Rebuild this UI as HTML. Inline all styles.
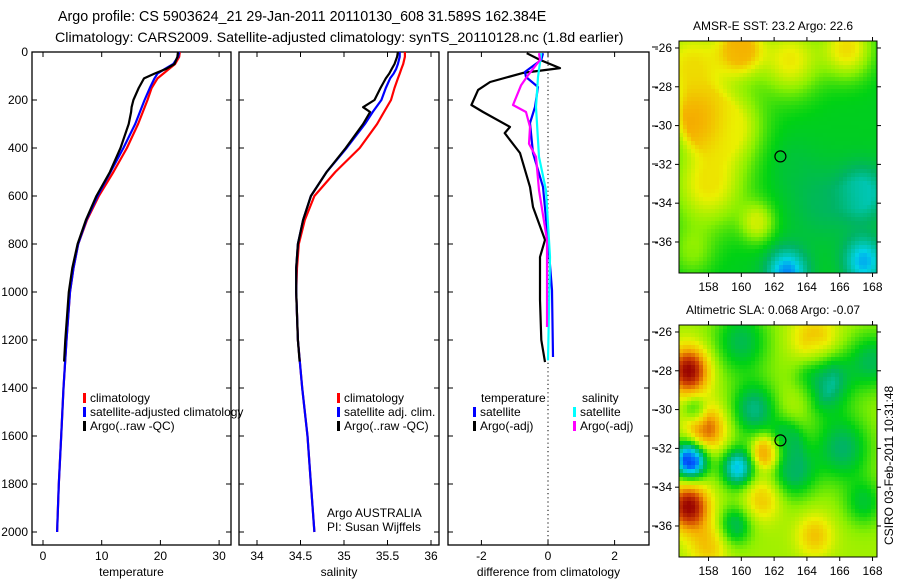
<!DOCTYPE html>
<html><head><meta charset="utf-8"><style>
html,body{margin:0;padding:0;background:#fff;width:900px;height:580px;overflow:hidden;position:relative;font-family:"Liberation Sans",sans-serif}
svg text{font-family:"Liberation Sans",sans-serif;fill:#000}
canvas{position:absolute;image-rendering:pixelated}
</style></head><body>
<svg id="plots" width="900" height="580" style="position:absolute;left:0;top:0">
<text x="58" y="21" font-size="14.3">Argo profile: CS 5903624_21 29-Jan-2011 20110130_608 31.589S 162.384E</text>
<text x="55" y="42" font-size="14.25">Climatology: CARS2009. Satellite-adjusted climatology: synTS_20110128.nc (1.8d earlier)</text>
<g id="p1"></g>
<g id="p2"></g>
<g id="p3"></g>
<text x="693" y="30" font-size="12">AMSR-E SST: 23.2 Argo: 22.6</text>
<text x="686" y="314" font-size="12">Altimetric SLA: 0.068 Argo: -0.07</text>
<text transform="translate(893,545) rotate(-90)" font-size="12">CSIRO 03-Feb-2011 10:31:48</text>
<g id="maps"></g>
</svg>
<canvas id="m1" width="198" height="232" style="left:679px;top:41px"></canvas>
<canvas id="m2" width="198" height="232" style="left:679px;top:325px"></canvas>
<svg id="ov" width="900" height="580" style="position:absolute;left:0;top:0"></svg>
<script>
// ---- profile data ----
const climDepth=[0,20,50,70,90,110,150,200,250,300,400,500,600,700,800,900,1000,1200,1400,1600,1800,2000];
const climT=[23.3,23.2,22.5,21.5,20.5,19.5,18.5,17.8,17.0,16.2,14.3,12.0,9.5,7.5,6.0,5.2,4.6,4.0,3.5,3.1,2.7,2.4];
const satT=[23.2,23.0,22.2,20.8,19.5,19.0,18.2,17.3,16.5,15.7,13.7,11.5,9.3,7.4,6.0,5.2,4.6,4.0,3.5,3.1,2.7,2.4];
const climS=[35.70,35.70,35.68,35.66,35.64,35.62,35.58,35.54,35.46,35.38,35.18,34.90,34.66,34.55,34.48,34.46,34.45,34.47,34.52,34.58,34.62,34.66];
const satS=[35.64,35.64,35.62,35.60,35.57,35.53,35.48,35.43,35.33,35.24,35.03,34.80,34.62,34.53,34.47,34.45,34.45,34.47,34.52,34.58,34.62,34.66];
const argoDepth=[0,20,50,70,90,110,150,200,230,250,300,400,500,600,700,800,900,1000,1200,1290];
const argoT=[23.0,22.9,22.4,21.0,19.0,17.2,16.3,15.4,15.1,15.0,14.6,13.2,11.4,9.1,7.3,5.9,5.0,4.4,3.8,3.6];
const argoS=[35.62,35.61,35.58,35.55,35.52,35.48,35.42,35.35,35.22,35.30,35.22,35.02,34.80,34.62,34.53,34.47,34.45,34.45,34.47,34.49];
const dTargoDepth=[5,33,67,87,125,158,221,250,312,338,421,562,646,783,854,1033,1200,1292];
const dTargo=[-0.64,-0.24,0.36,-0.75,-1.74,-2.1,-2.3,-1.95,-1.14,-1.3,-0.84,-0.54,-0.45,-0.09,-0.24,-0.24,-0.2,-0.09];
const dTsatDepth=[5,33,83,104,146,229,296,421,562,783,992,1271];
const dTsat=[-0.15,-0.2,-0.69,-0.66,-0.3,-0.39,-0.54,-0.45,-0.15,0,0.12,0.15];
const dSsatDepth=[5,104,229,437,576,854,1285];
const dSsat=[-0.2,-0.3,-0.36,-0.27,-0.06,0.06,0.0];
const dSargoDepth=[5,33,97,139,221,250,312,382,437,576,783,1146];
const dSargo=[-0.27,-0.24,-0.6,-0.81,-1.05,-0.66,-0.54,-0.57,-0.36,-0.27,-0.03,-0.03];
const depthTicks=[0,200,400,600,800,1000,1200,1400,1600,1800,2000];
const tTicks=[0,10,20,30];
const sTicks=[34,34.5,35,35.5,36];
const sTickLabels=["34","34.5","35","35.5","36"];
const dTicks=[-2,0,2];

const NS="http://www.w3.org/2000/svg";
function mk(parent,tag,attrs,txt){const e=document.createElementNS(NS,tag);for(const k in attrs)e.setAttribute(k,attrs[k]);if(txt!==undefined)e.textContent=txt;parent.appendChild(e);return e;}
const Y=d=>52+d*0.24;
const TOP=52,BOT=545;
function panel(g,x0,x1,sx,ticks,labels,xlabel,leftLabels){
  mk(g,'rect',{x:x0,y:TOP,width:x1-x0,height:BOT-TOP,fill:'none',stroke:'#000','stroke-width':1.3});
  ticks.forEach((t,i)=>{const x=sx(t);
    mk(g,'line',{x1:x,x2:x,y1:TOP,y2:TOP+5,stroke:'#000'});
    mk(g,'line',{x1:x,x2:x,y1:BOT,y2:BOT-5,stroke:'#000'});
    const l=mk(g,'text',{x:x,y:560,'font-size':12,'text-anchor':'middle'},labels[i]);
    
    
  });
  depthTicks.forEach(d=>{const y=Y(d);
    mk(g,'line',{x1:x0,x2:x0+5,y1:y,y2:y,stroke:'#000'});
    mk(g,'line',{x1:x1,x2:x1-5,y1:y,y2:y,stroke:'#000'});
    if(leftLabels){const l=mk(g,'text',{x:x0-4,y:y+4,'font-size':12,'text-anchor':'end'},String(d));
      
      }
  });
  const xl=mk(g,'text',{x:(x0+x1)/2,y:576,'font-size':12,'text-anchor':'middle'},xlabel);
  
  
}
function line(g,depths,vals,sx,color,name){
  const pts=depths.map((d,i)=>sx(vals[i]).toFixed(1)+','+Y(d).toFixed(1)).join(' ');
  const p=mk(g,'polyline',{points:pts,fill:'none',stroke:color,'stroke-width':2.2,'stroke-linejoin':'round'});
  
  
}
function legend(g,x,y,color,text){
  mk(g,'rect',{x:x,y:y-9,width:3,height:10,fill:color});
  const t=mk(g,'text',{x:x+7,y:y,'font-size':12},text);
  
  
}
// Panel 1
const g1=document.getElementById('p1');const sxT=v=>43+v*5.87;
panel(g1,32,231,sxT,tTicks,tTicks.map(String),'temperature',true);
line(g1,climDepth,climT,sxT,'#f00','climatology-temperature-line');
line(g1,climDepth,satT,sxT,'#00f','satellite-temperature-line');
line(g1,argoDepth,argoT,sxT,'#000','argo-temperature-line');
legend(g1,83,402,'#f00','climatology');legend(g1,83,416,'#00f','satellite-adjusted climatology');legend(g1,83,430,'#000','Argo(..raw -QC)');
// Panel 2
const g2=document.getElementById('p2');const sxS=v=>257+(v-34)*87;
panel(g2,239,439,sxS,sTicks,sTickLabels,'salinity',false);
line(g2,climDepth,climS,sxS,'#f00','climatology-salinity-line');
line(g2,climDepth,satS,sxS,'#00f','satellite-salinity-line');
line(g2,argoDepth,argoS,sxS,'#000','argo-salinity-line');
legend(g2,337,402,'#f00','climatology');legend(g2,337,416,'#00f','satellite adj. clim.');legend(g2,337,430,'#000','Argo(..raw -QC)');
mk(g2,'text',{x:327,y:517,'font-size':12},'Argo AUSTRALIA');
mk(g2,'text',{x:327,y:531,'font-size':12},'PI: Susan Wijffels');
// Panel 3
const g3=document.getElementById('p3');const sxD=v=>548+v*33.3;
panel(g3,448,649,sxD,dTicks,dTicks.map(String),'difference from climatology',false);
mk(g3,'line',{x1:548,x2:548,y1:TOP,y2:BOT,stroke:'#000','stroke-dasharray':'1.2,3'});
line(g3,dTargoDepth,dTargo,sxD,'#000','argo-temperature-diff-line');
line(g3,dTsatDepth,dTsat,sxD,'#00f','satellite-temperature-diff-line');
line(g3,dSsatDepth,dSsat,sxD,'#0ff','satellite-salinity-diff-line');
line(g3,dSargoDepth,dSargo,sxD,'#f0f','argo-salinity-diff-line');
mk(g3,'text',{x:481,y:402,'font-size':12},'temperature');
mk(g3,'text',{x:582,y:402,'font-size':12},'salinity');
legend(g3,473,416,'#00f','satellite');legend(g3,473,430,'#000','Argo(-adj)');
legend(g3,573,416,'#0ff','satellite');legend(g3,573,430,'#f0f','Argo(-adj)');
[47,87,126,164,203,242,332,371,410,448,487,526].forEach(y=>mk(g3,'line',{x1:652,x2:658,y1:y,y2:y,stroke:'#000'}));

// ---- maps ----
const lonTicks=[158,160,162,164,166,168];
const latTicks=[-26,-28,-30,-32,-34,-36];
const sstBlobs=[[157.5,-29.7,0.8,1.3],[157,-27,0.68,2.3],[160,-26,0.76,1.3],[163,-26.6,0.66,1.8],[166.5,-26,0.68,1.5],[158,-33,0.67,2.2],[159.5,-30,0.64,1.8],[161,-35,0.62,1],[157,-36.5,0.55,1.3],[167.5,-33.5,0.33,1.4],[162.8,-37.6,0.24,1.2],[167.5,-37,0.27,1.2],[165,-34,0.41,2],[163,-32,0.44,1.5]];
const slaBlobs=[[160,-26.5,0.42,1.7],[160.8,-30,0.38,1.4],[165,-28.5,0.33,1.6],[166.2,-32,0.4,1.7],[163.2,-33.2,0.4,1.4],[162.8,-31.5,0.42,1],[159.8,-33,0.28,1],[159.6,-36,0.4,1],[168,-27.5,0.42,1.5],[157.2,-30,0.4,0.7],[167.5,-34.8,0.45,1.2],[164.5,-26.5,0.75,1.4],[156.8,-28,0.97,1.2],[157.8,-31,0.85,1.2],[156.8,-35,0.97,1.2],[161.5,-32.2,0.86,0.8],[156.9,-32.6,0.12,1],[158,-37,0.72,1.2],[161.3,-34.6,0.72,1.1],[164.5,-36.5,0.72,1.1],[163.5,-29.5,0.64,1.2]];
const cmap=[[0.1,[0,0,170]],[0.2,[0,90,255]],[0.3,[0,210,230]],[0.4,[0,180,100]],[0.47,[0,210,20]],[0.56,[140,240,0]],[0.65,[235,240,0]],[0.75,[245,175,0]],[0.86,[210,70,0]],[0.97,[150,0,0]]];
function col(v){if(v<=cmap[0][0])return cmap[0][1];for(let i=1;i<cmap.length;i++){if(v<=cmap[i][0]){const a=cmap[i-1],b=cmap[i],t=(v-a[0])/(b[0]-a[0]);return a[1].map((c,k)=>Math.round(c+(b[1][k]-c)*t));}}return cmap[cmap.length-1][1];}
function drawMap(id,blobs,base){
  const c=document.getElementById(id).getContext('2d');
  const lon0=156.2,lon1=168.3,lat0=-25.64,lat1=-37.6,W=198,H=232,B=4;
  for(let py=0;py<H;py+=B)for(let px=0;px<W;px+=B){
    const lon=lon0+(px+2)/W*(lon1-lon0),lat=lat0+(py+2)/H*(lat1-lat0);
    let v=base,wsum=0,acc=0;
    blobs.forEach(b=>{const w=Math.exp(-((lon-b[0])**2+(lat-b[1])**2)/(b[3]*b[3]));acc+=w*(b[2]-base);wsum+=w;});
    v=base+(wsum>1?acc/wsum:acc);
    const cc=col(v);c.fillStyle=`rgb(${cc[0]},${cc[1]},${cc[2]})`;c.fillRect(px,py,B,B);
  }
}
drawMap('m1',sstBlobs,0.46);
drawMap('m2',slaBlobs,0.58);
const ov=document.getElementById('ov');
[[41,'sst'],[325,'sla']].forEach(([top,nm])=>{
  const sx=lon=>679+(lon-156.2)*16.4, sy=lat=>top+(-25.64-lat)*19.4;
  const f=mk(ov,'rect',{x:679,y:top,width:198,height:232,fill:'none',stroke:'#000','stroke-width':1});
  
  
  lonTicks.forEach(l=>{const x=sx(l);mk(ov,'line',{x1:x,x2:x,y1:top,y2:top-4,stroke:'#000'});mk(ov,'line',{x1:x,x2:x,y1:top+232,y2:top+236,stroke:'#000'});
    mk(ov,'text',{x:x,y:top+250,'font-size':12,'text-anchor':'middle'},String(l));});
  latTicks.forEach(l=>{const y=sy(l);mk(ov,'line',{x1:679,x2:675,y1:y,y2:y,stroke:'#000'});mk(ov,'line',{x1:877,x2:881,y1:y,y2:y,stroke:'#000'});
    mk(ov,'text',{x:672,y:y+4,'font-size':12,'text-anchor':'end'},String(l));});
  const m=mk(ov,'circle',{cx:sx(162.384),cy:sy(-31.589),r:5.5,fill:'none',stroke:'#000','stroke-width':1.2});
  
  
});
</script>
</body></html>
